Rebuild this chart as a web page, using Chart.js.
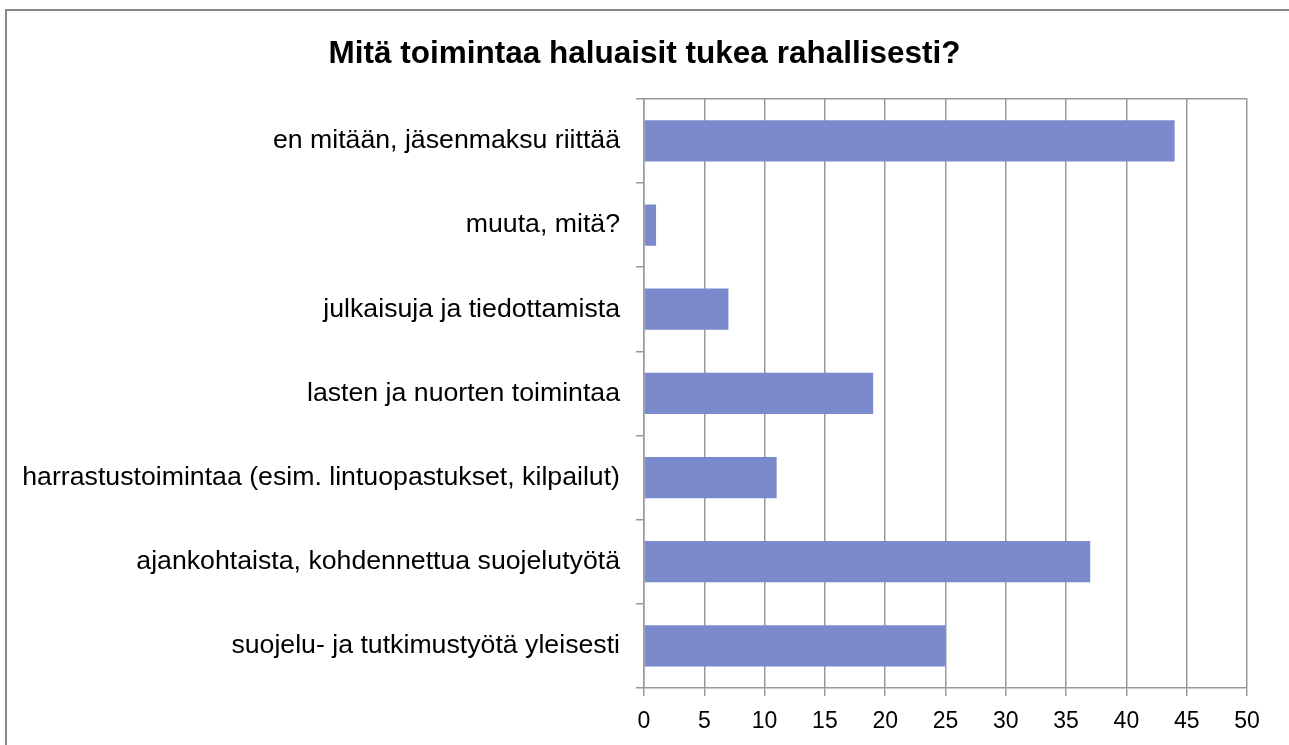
<!DOCTYPE html>
<html>
<head>
<meta charset="utf-8">
<script src="https://cdn.jsdelivr.net/npm/chart.js@4"></script>
<style>
    body { margin: 0; background: #fff; overflow: hidden; }
    #frame { position: absolute; left: 5px; top: 9px; width: 1400px; height: 900px;
             border-left: 2px solid #888; border-top: 2px solid #888; }
    #wrap { position: absolute; left: 0; top: 0; width: 1289px; height: 745px; }
</style>
</head>
<body>
<div id="frame"></div>
<div id="wrap"><canvas id="barChart"></canvas></div>
<script>
const chartTitle = 'Mitä toimintaa haluaisit tukea rahallisesti?';
const categories = [
    'en mitään, jäsenmaksu riittää',
    'muuta, mitä?',
    'julkaisuja ja tiedottamista',
    'lasten ja nuorten toimintaa',
    'harrastustoimintaa (esim. lintuopastukset, kilpailut)',
    'ajankohtaista, kohdennettua suojelutyötä',
    'suojelu- ja tutkimustyötä yleisesti'
];
const answers = [44, 1, 7, 19, 11, 37, 25];
const xMin = 0;
const xMax = 50;
const xStep = 5;

// top border of the plot area
const plotBorder = {
    id: 'plotBorder',
    afterDraw(chart) {
        const { ctx, chartArea } = chart;
        ctx.save();
        ctx.strokeStyle = '#999';
        ctx.lineWidth = 1.5;
        ctx.beginPath();
        ctx.moveTo(chartArea.left, chartArea.top);
        ctx.lineTo(chartArea.right, chartArea.top);
        ctx.stroke();
        ctx.restore();
    }
};

function generateChart() {
    const ctx = document.getElementById('barChart').getContext('2d');
    new Chart(ctx, {
        type: 'bar',
        data: {
            labels: categories,
            datasets: [{
                data: answers,
                backgroundColor: '#7a8acc',
                borderWidth: 0,
                barPercentage: 0.49,
                categoryPercentage: 1
            }]
        },
        options: {
            indexAxis: 'y',
            responsive: true,
            maintainAspectRatio: false,
            animation: false,
            layout: { padding: 0 },
            scales: {
                x: {
                    min: xMin,
                    max: xMax,
                    ticks: { stepSize: xStep, color: '#000', padding: 12,
                             font: { family: 'Liberation Sans, Arial', size: 23 } },
                    grid: { color: '#999', lineWidth: 1.5, tickLength: 8 },
                    border: { color: '#999', width: 1.5 },
                    afterFit: s => { s.height = 57; s.paddingRight = 42; }
                },
                y: {
                    ticks: { color: '#000', padding: 16,
                             font: { family: 'Liberation Sans, Arial', size: 26.7 } },
                    grid: { drawOnChartArea: false, offset: true, tickLength: 8, color: '#999', lineWidth: 1.5 },
                    border: { color: '#999', width: 1.5 },
                    afterFit: s => { s.width = 644; }
                }
            },
            plugins: {
                legend: { display: false },
                tooltip: { enabled: false },
                title: {
                    display: true,
                    text: chartTitle,
                    color: '#000',
                    font: { family: 'Liberation Sans, Arial', size: 31.5, weight: 'bold' },
                    padding: { top: 35, bottom: 26 }
                }
            }
        },
        plugins: [plotBorder]
    });
}

generateChart();
</script>
</body>
</html>
